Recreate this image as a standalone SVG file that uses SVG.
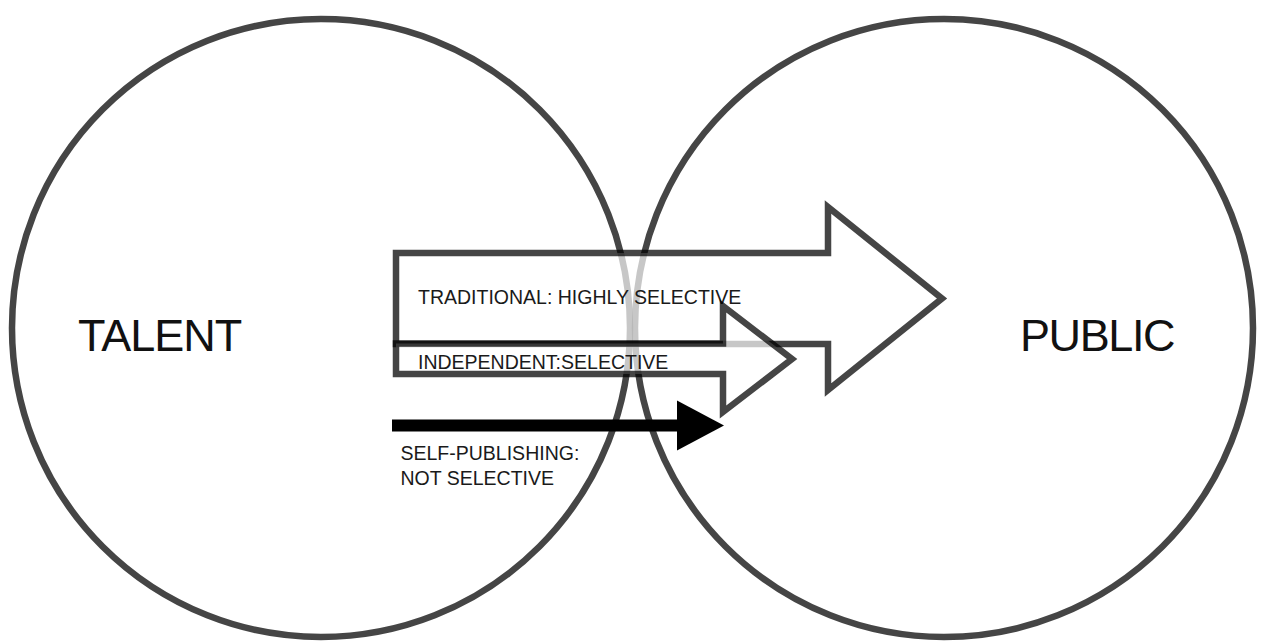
<svg xmlns="http://www.w3.org/2000/svg" width="1261" height="641" viewBox="0 0 1261 641">
  <style>
    .ring { fill: none; stroke: #000; stroke-opacity: 0.73; stroke-width: 6.5; }
    .big { font-family: "Liberation Sans", Arial, sans-serif; font-size: 45px; fill: #111; }
    .lbl { font-family: "Liberation Sans", Arial, sans-serif; font-size: 19.5px; fill: #1a1a1a; }
    .hollow { fill: #fff; fill-opacity: 0.7; stroke: #000; stroke-opacity: 0.73; stroke-width: 6.5; stroke-linejoin: miter; stroke-miterlimit: 10; }
    .solid { fill: #000; stroke: none; }
  </style>
  <rect width="1261" height="641" fill="#fff"/>
  <g id="talent">
    <circle class="ring" cx="321" cy="328" r="309"/>
    <text class="big" x="78" y="351" letter-spacing="-1">TALENT</text>
  </g>
  <g id="public">
    <circle class="ring" cx="944" cy="328" r="309"/>
    <text class="big" x="1020" y="351" letter-spacing="-1.4">PUBLIC</text>
  </g>
  <g id="connectors">
    <g id="traditional">
      <path class="hollow" d="M396,253 H828 V207 L942,298.5 L828,390 V344 H396 Z"/>
      <text class="lbl" x="418" y="303.5">TRADITIONAL: HIGHLY SELECTIVE</text>
    </g>
    <g id="independent">
      <path class="hollow" d="M396,343.5 H723 V306 L792,359 L723,412 V374 H396 Z"/>
      <text class="lbl" x="418" y="369">INDEPENDENT:SELECTIVE</text>
    </g>
    <g id="self-publishing">
      <rect class="solid" x="392" y="419.5" width="290" height="12"/>
      <polygon class="solid" points="677,400.5 724,425.5 677,450.5"/>
      <text class="lbl" x="400.5" y="460">SELF-PUBLISHING:</text>
      <text class="lbl" x="400.5" y="485">NOT SELECTIVE</text>
    </g>
  </g>
</svg>
